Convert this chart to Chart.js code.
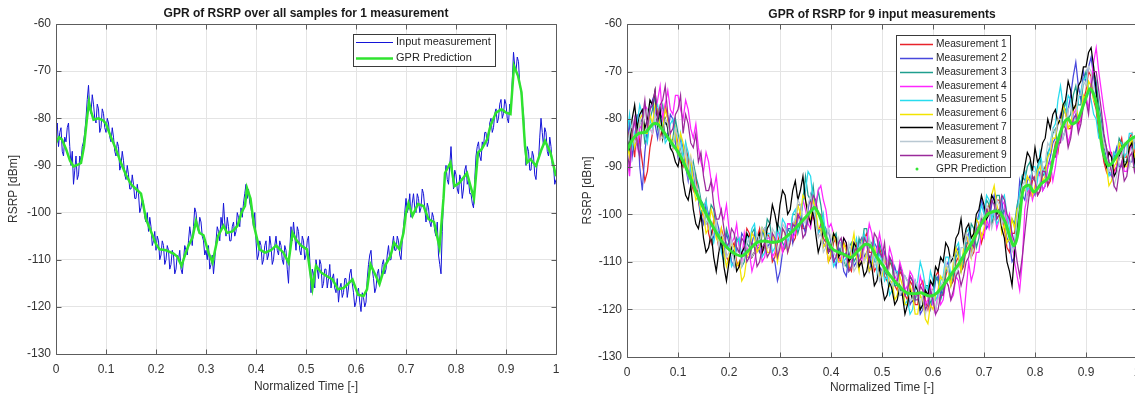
<!DOCTYPE html>
<html><head><meta charset="utf-8">
<script src="https://cdn.jsdelivr.net/npm/chart.js@4.4.1/dist/chart.umd.min.js"></script>
<style>
html,body{margin:0;padding:0;background:#fff;overflow:hidden;width:1135px;height:396px;position:relative;}
#c1{position:absolute;left:0;top:0;width:570px;height:396px;}
#c2{position:absolute;left:570px;top:0;width:580px;height:396px;}
</style></head><body>
<canvas id="c1" width="570" height="396"></canvas>
<canvas id="c2" width="580" height="396"></canvas>
<script>
// ---------------- DATA ----------------
const titleLeft = 'GPR of RSRP over all samples for 1 measurement';
const titleRight = 'GPR of RSRP for 9 input measurements';
const xAxisTitle = 'Normalized Time [-]';
const yAxisTitle = 'RSRP [dBm]';
const xTickValues = [0, 0.1, 0.2, 0.3, 0.4, 0.5, 0.6, 0.7, 0.8, 0.9, 1];
const yTickValues = [-130, -120, -110, -100, -90, -80, -70, -60];

// Left panel: one input measurement (uniform normalized-time samples, step 0.0025)
const leftInput = [
 -84,-81,-86,-83,-82,-87,-88,-84,-85,-82,-81,-86,-90,-87,-94,-91,-88,-93,-92,-88,
 -89,-86,-85,-83,-80,-76,-73,-78,-79,-75,-77,-80,-81,-77,-78,-83,-82,-78,-79,-82,
 -83,-80,-81,-84,-85,-82,-84,-87,-88,-85,-86,-91,-90,-87,-89,-92,-93,-90,-92,-95,
 -95,-92,-94,-97,-97,-94,-96,-100,-99,-97,-98,-101,-102,-100,-104,-101,-103,-107,-106,-104,
 -108,-105,-106,-110,-109,-106,-107,-111,-110,-107,-108,-112,-111,-108,-109,-113,-112,-109,-110,-108,
 -112,-113,-110,-107,-108,-109,-106,-103,-105,-107,-103,-99,-100,-103,-104,-101,-102,-105,-106,-109,
 -108,-110,-107,-112,-111,-109,-113,-110,-106,-103,-104,-106,-101,-103,-98,-102,-105,-101,-103,-106,
 -106,-103,-102,-105,-104,-100,-101,-103,-99,-101,-98,-96,-94,-97,-95,-98,-99,-101,-103,-100,
 -106,-110,-109,-106,-107,-111,-110,-107,-106,-110,-109,-105,-107,-111,-110,-107,-105,-108,-109,-106,
 -107,-110,-111,-107,-108,-112,-115,-108,-103,-106,-102,-105,-108,-103,-104,-108,-109,-105,-106,-110,
 -109,-106,-105,-110,-117,-112,-113,-116,-110,-112,-114,-110,-111,-116,-115,-112,-112,-116,-114,-111,
 -116,-114,-113,-116,-117,-114,-119,-116,-115,-118,-117,-114,-114,-118,-116,-113,-112,-115,-117,-120,
 -119,-117,-116,-119,-121,-117,-118,-120,-119,-114,-111,-109,-108,-112,-114,-117,-116,-113,-112,-115,
 -114,-111,-110,-113,-112,-109,-107,-110,-110,-107,-105,-108,-108,-105,-106,-109,-110,-106,-103,-100,
 -97,-100,-99,-96,-101,-98,-96,-99,-100,-96,-97,-100,-99,-95,-96,-99,-102,-98,-99,-102,
 -103,-100,-101,-104,-105,-102,-109,-111,-113,-104,-97,-93,-90,-93,-94,-90,-86,-91,-95,-91,
 -92,-95,-96,-92,-93,-97,-95,-91,-90,-94,-93,-96,-96,-98,-99,-93,-88,-86,-85,-88,
 -89,-85,-86,-83,-83,-86,-85,-81,-80,-83,-82,-79,-78,-81,-80,-77,-76,-80,-79,-76,
 -77,-80,-81,-77,-78,-72,-66,-69,-70,-67,-68,-73,-74,-77,-79,-85,-90,-86,-87,-91,
 -91,-87,-88,-92,-93,-89,-89,-84,-80,-83,-86,-82,-83,-87,-88,-84,-86,-90,-90,-94,
 -93
];
// Left panel: GPR prediction (read at its visible breakpoints)
const leftGprT = [0,0.006,0.012,0.02,0.028,0.035,0.045,0.05,0.056,0.062,0.066,0.07,0.075,0.085,0.095,0.1,0.11,0.12,0.13,0.14,0.15,0.16,0.17,0.175,0.18,0.19,0.2,0.207,0.22,0.235,0.243,0.251,0.258,0.265,0.273,0.28,0.287,0.295,0.305,0.313,0.324,0.335,0.342,0.353,0.363,0.371,0.378,0.382,0.389,0.396,0.407,0.418,0.43,0.44,0.455,0.465,0.473,0.48,0.49,0.502,0.513,0.52,0.531,0.542,0.553,0.564,0.575,0.585,0.593,0.604,0.615,0.622,0.629,0.64,0.647,0.658,0.669,0.676,0.687,0.695,0.7,0.705,0.713,0.724,0.735,0.745,0.756,0.767,0.775,0.778,0.789,0.797,0.807,0.822,0.829,0.836,0.844,0.851,0.862,0.869,0.88,0.891,0.9,0.909,0.916,0.924,0.931,0.938,0.942,0.949,0.96,0.971,0.978,0.989,1.0];
const leftGprV = [-85.2,-84,-84.5,-86.5,-89,-90.2,-89.8,-89.5,-86,-80,-76.5,-78.5,-80.3,-80,-80.5,-81.2,-84,-86.6,-89.5,-92,-94,-95,-96,-98.6,-101.4,-104,-106.7,-107.8,-108,-108.7,-109.4,-111.3,-109,-107,-105.3,-101.8,-104.3,-104.8,-108.5,-110.6,-105,-102.8,-104.3,-104,-102.8,-100,-98.6,-94.8,-97,-102.8,-107.8,-108.5,-108,-107,-108.5,-110.6,-104.3,-105.7,-107,-107.8,-116,-111.3,-112.8,-113.5,-114.2,-116.3,-116,-115,-114.2,-117.4,-117.7,-116.3,-111,-113.5,-115.2,-111.3,-109.2,-106.4,-107.8,-104.3,-100,-98,-100.7,-98.2,-98.6,-101.4,-102,-107.4,-97,-91.6,-89.4,-94.4,-93.7,-91.6,-94.4,-97,-87.3,-86.6,-84.5,-81.6,-78.8,-78.1,-78.8,-79.1,-68.9,-71,-74.5,-85.9,-89.4,-88.7,-90.1,-86.6,-84.8,-87.3,-92.3];

// Right panel: nine measurements (uniform normalized-time samples, step 0.005)
const meas1 = [
 -86,-81,-84,-88,-80,-85,-89,-93,-91,-86,-83,-79,-78,-84,-82,-77,-80,-84,-86,-82,
 -85,-89,-90,-86,-88,-93,-95,-92,-97,-101,-99,-97,-104,-106,-101,-104,-107,-103,-105,-109,
 -110,-107,-106,-110,-111,-108,-107,-103,-104,-109,-108,-105,-103,-108,-107,-104,-105,-110,-109,-106,
 -104,-108,-107,-102,-102,-106,-105,-101,-99,-103,-103,-98,-97,-101,-100,-104,-102,-105,-106,-110,
 -109,-106,-105,-109,-110,-106,-107,-111,-112,-108,-106,-110,-109,-105,-104,-108,-108,-112,-111,-107,
 -109,-113,-114,-110,-111,-115,-116,-112,-113,-117,-118,-114,-115,-119,-119,-115,-114,-118,-120,-116,
 -116,-113,-112,-116,-117,-113,-111,-115,-114,-110,-109,-112,-111,-107,-105,-109,-108,-104,-102,-106,
 -104,-100,-98,-102,-101,-97,-97,-101,-103,-107,-108,-104,-104,-99,-95,-92,-91,-95,-96,-93,
 -92,-96,-95,-91,-90,-94,-93,-88,-85,-87,-83,-79,-78,-82,-82,-78,-77,-81,-80,-76,
 -74,-70,-71,-76,-78,-83,-85,-89,-91,-87,-87,-91,-90,-86,-84,-88,-88,-84,-83,-87,
 -86];
const meas2 = [
 -84,-81,-88,-84,-79,-90,-95,-87,-82,-78,-76,-81,-84,-80,-79,-84,-83,-79,-80,-85,
 -88,-84,-86,-90,-93,-89,-91,-95,-97,-100,-102,-98,-100,-104,-105,-101,-103,-107,-108,-104,
 -106,-110,-111,-107,-108,-104,-105,-109,-109,-106,-104,-107,-108,-104,-103,-107,-106,-109,-110,-114,
 -112,-108,-106,-103,-103,-106,-101,-98,-98,-102,-104,-99,-96,-100,-101,-104,-103,-106,-107,-103,
 -106,-109,-111,-107,-108,-112,-113,-109,-107,-111,-110,-106,-105,-109,-108,-112,-110,-106,-107,-111,
 -112,-108,-110,-114,-115,-111,-113,-117,-117,-113,-114,-119,-118,-114,-116,-121,-120,-116,-117,-120,
 -118,-114,-113,-117,-115,-111,-110,-114,-112,-108,-107,-111,-109,-105,-104,-108,-106,-102,-100,-97,
 -99,-103,-102,-98,-96,-101,-100,-97,-102,-105,-106,-110,-109,-100,-93,-96,-97,-93,-92,-95,
 -96,-92,-91,-95,-94,-90,-88,-85,-84,-81,-79,-84,-82,-78,-75,-71,-68,-73,-76,-70,
 -72,-69,-67,-71,-75,-79,-82,-86,-88,-91,-92,-88,-86,-90,-90,-86,-85,-89,-89,-85,
 -84];
const meas3 = [
 -87,-83,-82,-86,-85,-81,-80,-85,-84,-80,-78,-75,-82,-79,-77,-81,-81,-86,-84,-80,
 -83,-87,-88,-85,-91,-93,-89,-92,-94,-97,-98,-102,-101,-98,-99,-103,-104,-106,-107,-103,
 -105,-108,-109,-105,-106,-111,-110,-106,-107,-104,-103,-107,-107,-103,-105,-101,-102,-106,-106,-102,
 -103,-106,-107,-103,-104,-100,-100,-104,-102,-97,-92,-96,-97,-94,-99,-95,-98,-102,-103,-106,
 -108,-105,-104,-108,-107,-110,-111,-107,-106,-110,-109,-105,-107,-103,-103,-107,-106,-110,-110,-106,
 -108,-112,-113,-109,-111,-115,-115,-111,-112,-116,-117,-113,-114,-118,-116,-120,-119,-115,-115,-119,
 -117,-113,-114,-118,-116,-112,-111,-115,-113,-109,-108,-112,-110,-106,-106,-102,-103,-107,-105,-101,
 -101,-97,-98,-102,-100,-96,-96,-100,-99,-103,-105,-101,-102,-98,-96,-92,-93,-90,-89,-92,
 -93,-90,-88,-92,-91,-87,-86,-83,-82,-86,-84,-79,-76,-80,-79,-75,-73,-77,-77,-72,
 -70,-74,-74,-70,-72,-77,-80,-84,-86,-89,-90,-87,-88,-84,-85,-89,-89,-86,-86,-90,
 -88];
const meas4 = [
 -88,-92,-84,-80,-86,-82,-81,-77,-78,-82,-83,-79,-76,-73,-80,-77,-74,-78,-79,-75,
 -75,-78,-80,-76,-78,-82,-84,-81,-86,-89,-91,-87,-89,-93,-95,-92,-97,-100,-101,-98,
 -103,-106,-105,-102,-107,-110,-104,-107,-108,-112,-110,-107,-106,-110,-109,-105,-105,-109,-108,-104,
 -104,-108,-106,-102,-102,-105,-104,-100,-101,-97,-99,-102,-103,-99,-98,-95,-94,-97,-99,-103,
 -102,-104,-106,-110,-109,-105,-106,-110,-110,-106,-107,-111,-110,-107,-106,-102,-104,-108,-108,-104,
 -107,-110,-111,-107,-109,-113,-114,-110,-112,-116,-115,-112,-113,-117,-117,-113,-115,-119,-118,-115,
 -119,-121,-116,-119,-118,-114,-115,-118,-117,-113,-114,-118,-122,-116,-110,-114,-112,-108,-108,-104,
 -105,-101,-103,-100,-99,-103,-101,-97,-98,-102,-100,-105,-110,-113,-116,-110,-99,-96,-94,-97,
 -95,-91,-92,-95,-94,-90,-89,-93,-90,-86,-84,-81,-81,-85,-83,-79,-78,-82,-80,-76,
 -75,-78,-72,-68,-65,-70,-74,-78,-81,-85,-88,-92,-90,-86,-87,-91,-91,-87,-85,-89,
 -88];
const meas5 = [
 -83,-79,-86,-83,-81,-77,-79,-83,-85,-80,-82,-78,-77,-80,-81,-85,-84,-81,-80,-84,
 -86,-83,-89,-85,-87,-91,-93,-95,-96,-100,-99,-97,-102,-104,-106,-103,-104,-108,-110,-106,
 -107,-111,-110,-106,-105,-109,-108,-104,-106,-103,-102,-106,-105,-109,-108,-104,-104,-108,-107,-103,
 -105,-101,-102,-106,-104,-100,-99,-103,-101,-97,-95,-91,-92,-97,-100,-104,-103,-100,-105,-108,
 -107,-111,-110,-106,-106,-110,-109,-112,-111,-107,-105,-109,-108,-104,-106,-110,-109,-106,-112,-108,
 -110,-114,-113,-117,-116,-112,-112,-116,-115,-119,-118,-121,-120,-116,-114,-110,-112,-115,-116,-112,
 -114,-118,-117,-114,-113,-109,-109,-113,-111,-107,-106,-110,-108,-104,-103,-107,-105,-101,-101,-98,
 -100,-96,-97,-101,-99,-102,-101,-97,-96,-100,-103,-107,-106,-100,-95,-92,-91,-95,-94,-90,
 -90,-93,-87,-90,-92,-88,-85,-82,-81,-76,-73,-77,-79,-75,-76,-80,-80,-76,-74,-72,
 -71,-74,-76,-79,-80,-84,-84,-87,-89,-92,-91,-87,-88,-85,-85,-88,-87,-83,-83,-86,
 -85];
const meas6 = [
 -85,-88,-82,-86,-84,-80,-79,-83,-83,-79,-81,-77,-78,-82,-82,-78,-80,-84,-85,-82,
 -87,-83,-85,-89,-91,-88,-94,-97,-96,-99,-100,-104,-103,-99,-101,-105,-106,-103,-108,-111,
 -109,-106,-107,-111,-110,-114,-113,-109,-108,-104,-105,-108,-107,-103,-104,-108,-108,-104,-106,-110,
 -107,-103,-104,-108,-106,-102,-102,-98,-100,-96,-97,-101,-101,-97,-99,-103,-103,-107,-106,-110,
 -108,-104,-106,-110,-110,-106,-108,-111,-107,-104,-109,-112,-106,-110,-108,-112,-111,-107,-109,-113,
 -113,-109,-111,-115,-114,-118,-117,-113,-115,-119,-119,-115,-117,-121,-121,-117,-118,-122,-123,-119,
 -120,-117,-116,-113,-114,-111,-112,-115,-110,-107,-109,-112,-107,-104,-106,-109,-104,-101,-102,-105,
 -103,-100,-99,-96,-94,-98,-100,-104,-102,-106,-105,-101,-103,-99,-98,-95,-95,-92,-93,-96,
 -94,-91,-90,-93,-92,-88,-87,-84,-84,-80,-81,-77,-79,-82,-81,-78,-77,-80,-79,-75,
 -76,-72,-73,-76,-77,-81,-83,-87,-90,-94,-93,-90,-89,-85,-86,-90,-90,-86,-84,-88,
 -86];
const meas7 = [
 -83,-86,-80,-77,-82,-79,-78,-82,-80,-76,-77,-74,-81,-78,-84,-80,-82,-86,-87,-89,
 -90,-87,-93,-96,-97,-94,-99,-102,-103,-100,-105,-108,-107,-104,-109,-112,-108,-105,-111,-114,
 -110,-107,-108,-112,-111,-108,-107,-104,-105,-109,-108,-105,-104,-108,-106,-103,-102,-98,-100,-103,
 -98,-95,-96,-100,-99,-95,-93,-97,-95,-92,-97,-100,-102,-99,-104,-108,-106,-103,-105,-108,
 -107,-104,-105,-109,-108,-105,-106,-110,-109,-106,-107,-111,-110,-113,-112,-109,-111,-115,-114,-111,
 -115,-118,-117,-114,-116,-119,-118,-115,-117,-121,-119,-116,-118,-115,-116,-120,-119,-116,-117,-114,
 -115,-111,-112,-109,-110,-106,-107,-110,-109,-105,-104,-101,-106,-103,-102,-105,-104,-100,-99,-96,
 -98,-101,-100,-96,-97,-100,-99,-103,-105,-110,-112,-115,-108,-103,-98,-93,-90,-87,-88,-91,
 -86,-89,-88,-85,-84,-80,-82,-79,-78,-81,-80,-77,-76,-72,-74,-78,-77,-73,-72,-69,
 -69,-66,-65,-69,-74,-80,-84,-88,-90,-87,-88,-92,-91,-88,-86,-90,-89,-86,-85,-89,
 -87];
const meas8 = [
 -86,-83,-81,-85,-84,-80,-82,-78,-78,-82,-83,-79,-80,-84,-84,-80,-81,-85,-86,-82,
 -84,-87,-89,-86,-92,-88,-90,-94,-95,-98,-99,-102,-101,-105,-104,-101,-107,-104,-105,-109,
 -108,-105,-111,-108,-107,-111,-109,-106,-105,-109,-108,-104,-106,-103,-103,-107,-107,-103,-104,-108,
 -106,-102,-103,-107,-105,-102,-101,-97,-98,-101,-102,-98,-96,-99,-101,-105,-104,-108,-107,-103,
 -105,-108,-109,-105,-107,-111,-110,-106,-108,-112,-111,-107,-106,-110,-109,-105,-107,-111,-110,-114,
 -112,-109,-110,-114,-115,-112,-113,-117,-116,-113,-114,-118,-118,-114,-115,-119,-117,-121,-119,-116,
 -116,-120,-118,-115,-114,-110,-112,-109,-109,-113,-111,-107,-107,-104,-105,-109,-107,-103,-103,-100,
 -102,-98,-99,-103,-101,-97,-98,-102,-100,-103,-104,-108,-107,-101,-97,-94,-93,-97,-95,-91,
 -91,-95,-93,-89,-89,-85,-86,-82,-83,-80,-80,-84,-82,-78,-77,-81,-79,-75,-75,-72,
 -73,-69,-70,-74,-76,-80,-82,-85,-87,-91,-90,-94,-92,-88,-88,-85,-86,-90,-88,-84,
 -85];
const meas9 = [
 -87,-90,-83,-80,-85,-88,-80,-76,-82,-78,-77,-74,-80,-77,-76,-73,-79,-83,-82,-79,
 -78,-75,-83,-79,-81,-85,-86,-83,-89,-87,-92,-95,-95,-93,-98,-101,-101,-99,-103,-107,
 -106,-103,-104,-107,-108,-105,-106,-110,-109,-106,-107,-111,-110,-107,-106,-109,-108,-104,-105,-109,
 -107,-103,-104,-108,-106,-102,-103,-100,-101,-105,-104,-101,-99,-96,-97,-100,-100,-104,-104,-108,
 -107,-110,-109,-106,-105,-109,-108,-112,-111,-108,-107,-110,-109,-105,-106,-110,-108,-104,-105,-108,
 -109,-106,-112,-109,-110,-114,-114,-111,-113,-117,-116,-113,-114,-118,-118,-115,-116,-120,-119,-116,
 -118,-121,-120,-117,-117,-114,-115,-118,-116,-113,-112,-115,-113,-110,-109,-106,-107,-103,-104,-101,
 -102,-99,-100,-97,-98,-101,-100,-96,-97,-100,-101,-104,-106,-110,-113,-109,-104,-99,-95,-92,
 -93,-96,-95,-91,-91,-94,-92,-88,-88,-85,-85,-81,-82,-86,-84,-80,-79,-83,-81,-77,
 -76,-79,-73,-70,-70,-74,-78,-83,-86,-89,-91,-94,-95,-91,-89,-93,-92,-88,-87,-91,
 -89];
const measLabels = ['Measurement 1','Measurement 2','Measurement 3','Measurement 4','Measurement 5','Measurement 6','Measurement 7','Measurement 8','Measurement 9'];
// Right panel: GPR prediction
const rightGprT = [0,0.012,0.023,0.037,0.051,0.061,0.072,0.086,0.1,0.114,0.128,0.135,0.142,0.157,0.171,0.185,0.199,0.213,0.227,0.241,0.255,0.27,0.284,0.301,0.315,0.329,0.347,0.361,0.368,0.379,0.389,0.403,0.425,0.439,0.453,0.467,0.477,0.488,0.502,0.516,0.53,0.548,0.566,0.576,0.594,0.608,0.622,0.636,0.65,0.664,0.678,0.693,0.707,0.724,0.731,0.742,0.752,0.759,0.767,0.777,0.788,0.798,0.812,0.827,0.837,0.848,0.858,0.865,0.872,0.883,0.897,0.908,0.918,0.925,0.932,0.943,0.95,0.961,0.975,0.989,1.0];
const rightGprV = [-86.6,-84.1,-83,-82.7,-81,-81.1,-82.7,-84.8,-86.9,-89.8,-93.3,-95.2,-96.9,-100.3,-103.1,-105.6,-107.3,-108.4,-108.7,-107.3,-105.9,-105.6,-105.9,-105.6,-104.5,-103.1,-101,-99.3,-98.6,-100.7,-104.5,-107.3,-108.4,-109.1,-107.7,-106.3,-106.6,-108.7,-110.8,-112.9,-114.7,-116.5,-116.7,-116.5,-117.2,-116.5,-114.7,-112.6,-110.5,-108,-105.6,-102.4,-100,-99.3,-99.6,-101.7,-105.2,-106.6,-103.8,-94.6,-93.9,-95.3,-93.6,-92.2,-87.6,-83.4,-80.6,-79.9,-81,-80.3,-76.4,-73.6,-75.7,-79.9,-86.2,-89.7,-89.4,-87.6,-85.5,-84.1,-83.5];

// ---------------- STYLE / HELPERS ----------------
const FONT = "'Liberation Sans', Arial, Helvetica, sans-serif";
const uniform = (vals) => vals.map((v, i) => ({x: i / (vals.length - 1), y: v}));
const paired = (ts, vs) => ts.map((t, i) => ({x: t, y: vs[i]}));

const framePlugin = {
  id: 'frame',
  afterDatasetsDraw(chart) {
    const {ctx, chartArea: a} = chart;
    const x = chart.scales.x, y = chart.scales.y;
    const L = Math.round(a.left) + 0.5, R = Math.round(a.right) + 0.5;
    const T = Math.round(a.top) + 0.5, B = Math.round(a.bottom) + 0.5;
    ctx.save();
    ctx.strokeStyle = '#5c5c5c';
    ctx.lineWidth = 1;
    ctx.beginPath();
    ctx.moveTo(L, T); ctx.lineTo(R, T); ctx.lineTo(R, B); ctx.lineTo(L, B); ctx.closePath();
    x.ticks.forEach(t => {
      const px = Math.round(x.getPixelForValue(t.value)) + 0.5;
      ctx.moveTo(px, B); ctx.lineTo(px, B - 5);
      ctx.moveTo(px, T); ctx.lineTo(px, T + 5);
    });
    y.ticks.forEach(t => {
      const py = Math.round(y.getPixelForValue(t.value)) + 0.5;
      ctx.moveTo(L, py); ctx.lineTo(L + 5, py);
      ctx.moveTo(R, py); ctx.lineTo(R - 5, py);
    });
    ctx.stroke();
    ctx.restore();
  }
};

const boxLegendPlugin = {
  id: 'boxLegend',
  afterDraw(chart, args, o) {
    const {ctx} = chart;
    ctx.save();
    ctx.fillStyle = '#ffffff';
    ctx.fillRect(o.left, o.top, o.width, o.height);
    ctx.strokeStyle = '#3a3a3a';
    ctx.lineWidth = 1;
    ctx.strokeRect(o.left + 0.5, o.top + 0.5, o.width, o.height);
    ctx.font = o.fontSize + 'px ' + FONT;
    ctx.textBaseline = 'middle';
    ctx.textAlign = 'left';
    chart.data.datasets.forEach((ds, i) => {
      const yy = o.firstRow + i * o.rowStep;
      if (ds.legendDot) {
        ctx.fillStyle = ds.borderColor;
        ctx.beginPath();
        ctx.arc(o.dotX, yy, 1.5, 0, Math.PI * 2);
        ctx.fill();
      } else {
        ctx.strokeStyle = ds.borderColor;
        ctx.lineWidth = Math.max(ds.borderWidth, o.minLegendLine || 1);
        ctx.beginPath();
        ctx.moveTo(o.lineX0, Math.round(yy) + 0.5);
        ctx.lineTo(o.lineX1, Math.round(yy) + 0.5);
        ctx.stroke();
      }
      ctx.fillStyle = '#262626';
      ctx.fillText(ds.label, o.textX, yy);
    });
    ctx.restore();
  }
};

function axes(yWidth, xHeight, yTitlePad, xTitlePad, xTickPad) {
  return {
    x: {
      type: 'linear', min: 0, max: 1,
      afterBuildTicks: s => { s.ticks = xTickValues.map(v => ({value: v})); },
      afterFit: s => { s.height = xHeight; },
      ticks: {color: '#333333', font: {family: FONT, size: 12}, padding: xTickPad, maxRotation: 0, autoSkip: false,
              callback: v => String(Math.round(v * 10) / 10)},
      grid: {color: '#e4e4e4', lineWidth: 1, drawTicks: false},
      border: {display: false},
      title: {display: true, text: xAxisTitle, color: '#333333', font: {family: FONT, size: 12}, padding: {top: 0, bottom: xTitlePad}}
    },
    y: {
      type: 'linear', min: -130, max: -60,
      afterBuildTicks: s => { s.ticks = yTickValues.map(v => ({value: v})); },
      afterFit: s => { s.width = yWidth; },
      ticks: {color: '#333333', font: {family: FONT, size: 12}, padding: 5, autoSkip: false,
              callback: v => String(v)},
      grid: {color: '#e4e4e4', lineWidth: 1, drawTicks: false},
      border: {display: false},
      title: {display: true, text: yAxisTitle, color: '#333333', font: {family: FONT, size: 12}, padding: {top: yTitlePad, bottom: 0}}
    }
  };
}

Chart.defaults.font.family = FONT;

// ---------------- LEFT CHART ----------------
new Chart(document.getElementById('c1'), {
  type: 'line',
  data: {
    datasets: [
      {label: 'Input measurement', data: uniform(leftInput), borderColor: '#1414d8', borderWidth: 1, pointRadius: 0, tension: 0, order: 1},
      {label: 'GPR Prediction', data: paired(leftGprT, leftGprV), borderColor: '#2fe32f', borderWidth: 2.5, pointRadius: 0, tension: 0, order: 0}
    ]
  },
  options: {
    responsive: false, animation: false, devicePixelRatio: 1,
    layout: {padding: {left: 0, right: 14, top: 0, bottom: 0}},
    scales: axes(56, 42, 6, 2, 8),
    plugins: {
      legend: {display: false}, tooltip: {enabled: false},
      title: {display: true, text: titleLeft, fullSize: false, color: '#1a1a1a', font: {family: FONT, size: 12, weight: 'bold'}, padding: {top: 6.8, bottom: 2.8}},
      boxLegend: {left: 353, top: 34, width: 142, height: 32, firstRow: 42, rowStep: 16, lineX0: 356, lineX1: 393, textX: 396, dotX: 374, fontSize: 11, minLegendLine: 1}
    }
  },
  plugins: [framePlugin, boxLegendPlugin]
});

// ---------------- RIGHT CHART ----------------
const measColors = ['#e8232b', '#4848dc', '#1f9e8e', '#ff26ff', '#28dcee', '#f2e400', '#000000', '#b9c8d2', '#9a2a9a'];
const measSeries = [meas1, meas2, meas3, meas4, meas5, meas6, meas7, meas8, meas9];
const rightSets = measSeries.map((vals, i) => ({
  label: measLabels[i], data: uniform(vals), borderColor: measColors[i], borderWidth: 1.25,
  pointRadius: 0, tension: 0, order: 9 - i + 1
}));
rightSets.push({label: 'GPR Prediction', data: paired(rightGprT, rightGprV), borderColor: '#33e533', borderWidth: 3, pointRadius: 0, tension: 0.3, order: 0, legendDot: true});

new Chart(document.getElementById('c2'), {
  type: 'line',
  data: {datasets: rightSets},
  options: {
    responsive: false, animation: false, devicePixelRatio: 1,
    layout: {padding: {left: 0, right: 13, top: 0, bottom: 0}},
    scales: axes(57, 39, 10, 1, 8),
    plugins: {
      legend: {display: false}, tooltip: {enabled: false},
      title: {display: true, text: titleRight, fullSize: false, color: '#1a1a1a', font: {family: FONT, size: 12, weight: 'bold'}, padding: {top: 7.8, bottom: 1.8}},
      boxLegend: {left: 326, top: 35, width: 114, height: 142, firstRow: 44, rowStep: 13.9, lineX0: 330, lineX1: 363, textX: 366, dotX: 347, fontSize: 10.2, minLegendLine: 1.5}
    }
  },
  plugins: [framePlugin, boxLegendPlugin]
});
</script></body></html>
